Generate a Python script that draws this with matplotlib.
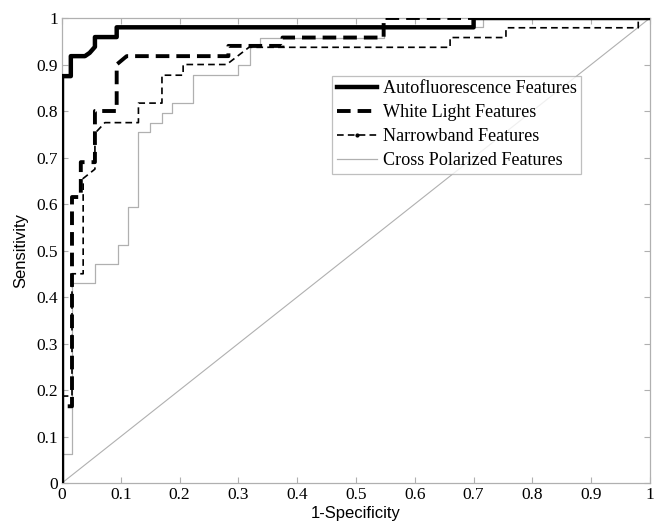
import matplotlib
matplotlib.use("Agg")
import matplotlib.pyplot as plt
from matplotlib.lines import Line2D

# ROC curves (1-Specificity, Sensitivity)
auto_fpr = [0, 0, 0.015, 0.015, 0.039, 0.047, 0.056, 0.056, 0.093, 0.093, 0.70, 0.70, 1.0]
auto_tpr = [0, 0.875, 0.875, 0.918, 0.918, 0.925, 0.938, 0.959, 0.959, 0.98, 0.98, 1.0, 1.0]

white_fpr = [0, 0, 0.017, 0.017, 0.032, 0.032, 0.056, 0.056, 0.093, 0.093, 0.11, 0.283, 0.283, 0.375, 0.375, 0.547, 0.547, 1.0]
white_tpr = [0, 0.165, 0.165, 0.615, 0.615, 0.69, 0.69, 0.80, 0.80, 0.90, 0.918, 0.918, 0.94, 0.94, 0.958, 0.958, 1.0, 1.0]

narrow_fpr = [0, 0, 0.017, 0.017, 0.036, 0.036, 0.056, 0.056, 0.073, 0.13, 0.13, 0.17, 0.17, 0.206, 0.206, 0.28, 0.318, 0.66, 0.66, 0.755, 0.755, 0.98, 0.98, 1.0]
narrow_tpr = [0, 0.187, 0.187, 0.45, 0.45, 0.655, 0.675, 0.752, 0.775, 0.775, 0.817, 0.817, 0.877, 0.877, 0.90, 0.90, 0.937, 0.937, 0.958, 0.958, 0.979, 0.979, 1.0, 1.0]

cross_fpr = [0, 0, 0.017, 0.017, 0.056, 0.056, 0.095, 0.095, 0.112, 0.112, 0.13, 0.13, 0.15, 0.15, 0.17, 0.17, 0.187, 0.187, 0.223, 0.223, 0.30, 0.30, 0.32, 0.32, 0.337, 0.337, 0.547, 0.547, 0.716, 0.716, 1.0]
cross_tpr = [0, 0.062, 0.062, 0.43, 0.43, 0.47, 0.47, 0.512, 0.512, 0.594, 0.594, 0.755, 0.755, 0.775, 0.775, 0.795, 0.795, 0.817, 0.817, 0.877, 0.877, 0.90, 0.90, 0.937, 0.937, 0.958, 0.958, 0.98, 0.98, 1.0, 1.0]

chance = [0, 1]

labels = ["Autofluorescence Features", "White Light Features",
          "Narrowband Features", "Cross Polarized Features"]
ticks = [0, 0.1, 0.2, 0.3, 0.4, 0.5, 0.6, 0.7, 0.8, 0.9, 1]
tick_labels = ["0", "0.1", "0.2", "0.3", "0.4", "0.5", "0.6", "0.7", "0.8", "0.9", "1"]

fig = plt.figure(figsize=(6.54, 5.22), dpi=100)
ax = fig.add_axes([0.0948, 0.0747, 0.8991, 0.8908])

gray = "#b0b0b0"
ax.plot(chance, chance, color=gray, lw=0.8, zorder=1)
ax.plot(cross_fpr, cross_tpr, color=gray, lw=0.9, zorder=2)
ax.plot(narrow_fpr, narrow_tpr, color="black", lw=1.2, ls=(0, (4, 2.5)), zorder=3)
ax.plot(white_fpr, white_tpr, color="black", lw=2.8, ls=(0, (3.5, 1.8)), zorder=4)
ax.plot(auto_fpr, auto_tpr, color="black", lw=3.2, zorder=5)

ax.set_xlim(0, 1)
ax.set_ylim(0, 1)
serif = ["Liberation Serif", "DejaVu Serif"]
ax.set_xticks(ticks)
ax.set_yticks(ticks)
ax.set_xticklabels(tick_labels, family=serif, fontsize=12.5)
ax.set_yticklabels(tick_labels, family=serif, fontsize=12.5)
ax.tick_params(direction="in", length=4, width=0.8, color=gray,
               top=True, right=True, pad=3)
for s in ax.spines.values():
    s.set_color(gray)
    s.set_linewidth(0.9)

ax.set_xlabel("1-Specificity", family=["Liberation Sans"], fontsize=12, labelpad=2)
ax.set_ylabel("Sensitivity", family=["Liberation Sans"], fontsize=12, labelpad=6)

handles = [
    Line2D([], [], color="black", lw=3.2),
    Line2D([], [], color="black", lw=2.8, ls=(0, (3.5, 1.8))),
    Line2D([], [], color="black", lw=1.2, ls=(0, (4, 2.5)), marker=".", markersize=4, markevery=[1]),
    Line2D([], [], color=gray, lw=0.9),
]
leg = ax.legend(handles, labels, loc="upper left", bbox_to_anchor=(0.46, 0.876),
                prop={"family": serif, "size": 13.1}, frameon=True, fancybox=False,
                edgecolor=gray, handlelength=2.2, handletextpad=0.3,
                borderpad=0.25, labelspacing=0.38, borderaxespad=0)
leg.get_frame().set_linewidth(0.9)

fig.savefig("out.png", dpi=100)
